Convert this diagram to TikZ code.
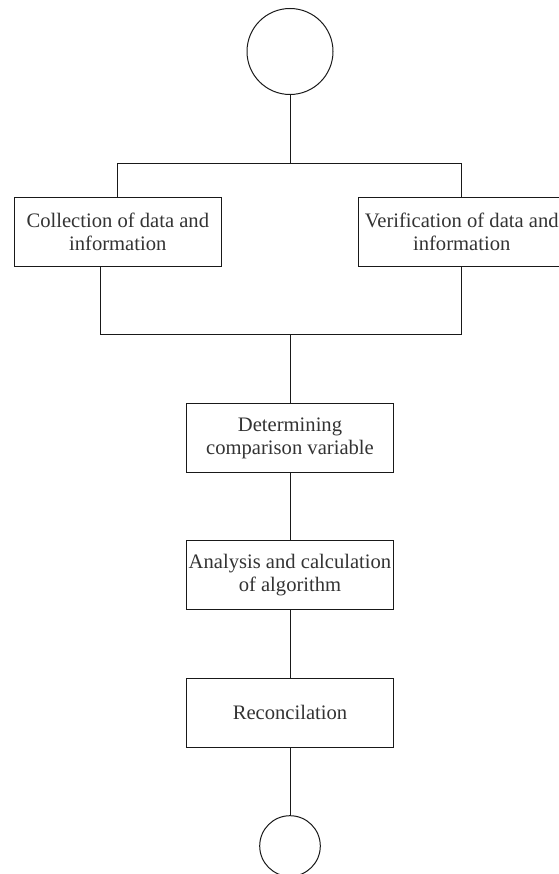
\documentclass[tikz,border=0pt]{standalone}
\usepackage{fontspec}
\setmainfont{Liberation Serif}
\usetikzlibrary{positioning,calc}

\tikzset{
  stepbox/.style={draw=black!90,line width=1pt,rectangle,minimum width=207pt,
    minimum height=69pt,inner sep=0pt,align=center,text=black!80,
    font=\fontsize{20.6}{23}\selectfont},
  endcirc/.style={draw=black!90,line width=1pt,circle,inner sep=0pt},
  link/.style={draw=black!90,line width=1pt}
}

\begin{document}
\begin{tikzpicture}[x=1pt,y=1pt]
\useasboundingbox (0,0) rectangle (558,-874);

\node[endcirc,minimum size=86pt] (start) at (290,-51.5) {};
\node[stepbox] (collect) at (117.8,-232) {Collection of data and\\information};
\node[stepbox] (verify) at (461.7,-232) {Verification of data and\\information};
\node[stepbox] (determ) at (290,-438) {Determining\\comparison variable};
\node[stepbox] (analysis) at (290,-575.4) {Analysis and calculation\\of algorithm};
\node[stepbox] (recon) at (290,-712.8) {Reconcilation};
\node[endcirc,minimum size=60.6pt] (stop) at (290,-846) {};

\coordinate (topsplit) at (290,-163.3);
\coordinate (botsplit) at (290,-334.3);

\draw[link] (start) -- (topsplit);
\draw[link] (collect.north) |- (topsplit) -| (verify.north);
\draw[link] ([xshift=-17pt]collect.south) |- (botsplit) -| (verify.south);
\draw[link] (botsplit) -- (determ);
\draw[link] (determ) -- (analysis);
\draw[link] (analysis) -- (recon);
\draw[link] (recon) -- (stop);
\end{tikzpicture}
\end{document}
